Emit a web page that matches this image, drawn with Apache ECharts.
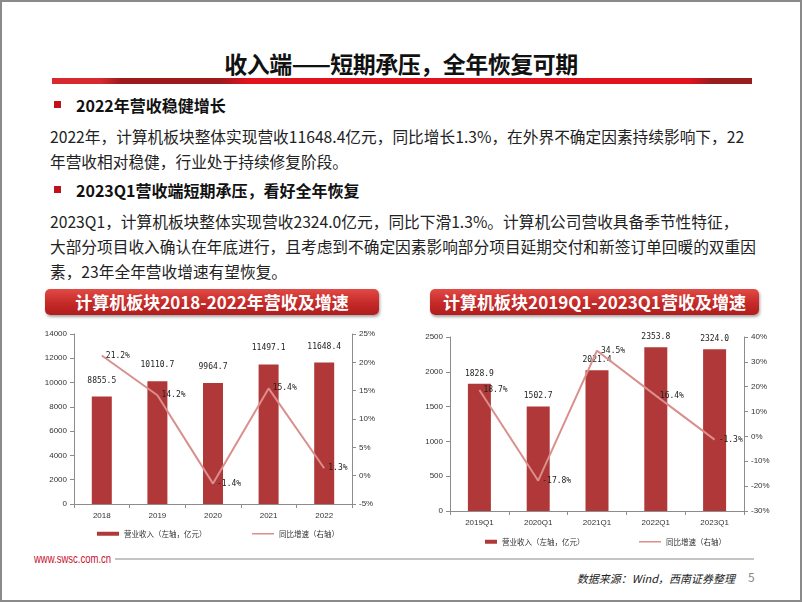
<!DOCTYPE html>
<html><head><meta charset="utf-8">
<script src="https://cdn.jsdelivr.net/npm/echarts@6/dist/echarts.min.js"></script>
<style>
html,body{margin:0;padding:0;background:#fff;}
#page{position:relative;width:802px;height:602px;box-sizing:border-box;border:2px solid #8a8a8a;overflow:hidden;font-family:"Noto Sans CJK SC","Noto Sans",sans-serif;}
.abs{position:absolute;white-space:nowrap;}
#title{left:0;width:798px;top:44px;text-align:center;font-size:23px;font-weight:bold;color:#111;line-height:34px;letter-spacing:-0.5px;}
#redbar{left:50px;top:76px;width:700px;height:6px;background:linear-gradient(100deg,#d62a30 0%,#d62a30 7%,#9c1a1c 10%,#9c1a1c 24%,#e2121e 28%,#e2121e 91%,#9a1d1d 94%,#9a1d1d 100%);}
.bullet{width:7px;height:7px;background:#c0121c;}
.head{font-size:16px;font-weight:bold;color:#111;line-height:22px;}
.body{font-size:15.7px;color:#222;line-height:25px;}
.banner{height:26px;border-radius:5px;background:linear-gradient(#e24a45,#c42a28 55%,#b01d1d);box-shadow:1px 2px 3px rgba(0,0,0,0.35);color:#fff;font-weight:bold;font-size:17px;line-height:26px;text-align:center;}
#url{left:32px;top:548px;font-family:"Liberation Sans",Arial,sans-serif;font-size:12.5px;color:#c8102e;line-height:18px;transform:scaleX(0.76);transform-origin:0 50%;}
#fline{left:113px;top:556px;width:639px;height:1.5px;background:#c4c4c4;}
#src{left:560px;top:567px;width:173px;text-align:right;font-size:11px;font-style:italic;color:#222;line-height:18px;}
#pnum{left:746px;top:566px;font-size:12px;color:#888;line-height:18px;}
</style></head>
<body>
<div id="page">
  <div id="title" class="abs">收入端——短期承压，全年恢复可期</div>
  <div id="redbar" class="abs"></div>
  <div class="abs bullet" style="left:52px;top:99px;"></div>
  <div class="abs head" style="left:74px;top:92px;">2022年营收稳健增长</div>
  <div class="abs body" style="left:48px;top:122px;">2022年，计算机板块整体实现营收11648.4亿元，同比增长1.3%，在外界不确定因素持续影响下，22<br>年营收相对稳健，行业处于持续修复阶段。</div>
  <div class="abs bullet" style="left:52px;top:184px;"></div>
  <div class="abs head" style="left:74px;top:177px;">2023Q1营收端短期承压，看好全年恢复</div>
  <div class="abs body" style="left:48px;top:207px;">2023Q1，计算机板块整体实现营收2324.0亿元，同比下滑1.3%。计算机公司营收具备季节性特征，<br>大部分项目收入确认在年底进行，且考虑到不确定因素影响部分项目延期交付和新签订单回暖的双重因<br>素，23年全年营收增速有望恢复。</div>
  <div class="abs banner" style="left:43px;top:287px;width:334px;">计算机板块2018-2022年营收及增速</div>
  <div class="abs banner" style="left:428px;top:287px;width:329px;">计算机板块2019Q1-2023Q1营收及增速</div>
  <div id="c1" class="abs" style="left:30px;top:320px;width:370px;height:225px;"></div>
  <div id="c2" class="abs" style="left:405px;top:320px;width:395px;height:225px;"></div>
  <div id="url" class="abs">www.swsc.com.cn</div>
  <div id="fline" class="abs"></div>
  <div id="src" class="abs">数据来源：Wind，西南证券整理</div>
  <div id="pnum" class="abs">5</div>
</div>
<script>
// ---- data ----
const annualCategories = ['2018', '2019', '2020', '2021', '2022'];
const annualRevenue = [8855.5, 10110.7, 9964.7, 11497.1, 11648.4];
const annualGrowth = [21.2, 14.2, -1.4, 15.4, 1.3];
const quarterCategories = ['2019Q1', '2020Q1', '2021Q1', '2022Q1', '2023Q1'];
const quarterRevenue = [1828.9, 1502.7, 2021.4, 2353.8, 2324.0];
const quarterGrowth = [18.7, -17.8, 34.5, 16.4, -1.3];
const barName = '营业收入（左轴，亿元）';
const lineName = '同比增速（右轴）';

const BAR = '#b03838';
const LINE = '#d98f8c';
const AX = '#8c8c8c';
const axisFont = {fontFamily: 'Liberation Sans, Arial, sans-serif', fontSize: 8, color: '#333'};
const labelFont = {fontFamily: 'DejaVu Sans Mono, monospace', fontSize: 8, color: '#222'};

function makeOption(cfg) {
  return {
    animation: false,
    grid: {left: cfg.gridLeft, top: cfg.gridTop, width: cfg.gridWidth, height: cfg.gridHeight},
    legend: [
      {data: [{name: barName, icon: 'rect'}], left: cfg.leg1x, top: cfg.legY, itemWidth: cfg.barIconW, itemHeight: 4,
       textStyle: {fontSize: 7.5, color: '#333', fontFamily: 'Noto Sans CJK SC'}, itemGap: 4, selectedMode: false},
      {data: [{name: lineName, icon: 'rect'}], left: cfg.leg2x, top: cfg.legY, itemWidth: 22, itemHeight: 1.5,
       textStyle: {fontSize: 7.5, color: '#333', fontFamily: 'Noto Sans CJK SC'}, itemGap: 4, selectedMode: false}
    ],
    xAxis: {
      type: 'category', data: cfg.categories,
      axisLine: {onZero: false, lineStyle: {color: AX, width: 1}},
      axisTick: {show: true, lineStyle: {color: AX}, length: 4},
      axisLabel: Object.assign({margin: 8}, axisFont)
    },
    yAxis: [
      {type: 'value', min: cfg.lMin, max: cfg.lMax, interval: cfg.lInt, splitLine: {show: false},
       axisLine: {show: true, lineStyle: {color: AX}}, axisTick: {show: true, length: 4, lineStyle: {color: AX}},
       axisLabel: Object.assign({margin: 7, formatter: v => String(v)}, axisFont)},
      {type: 'value', min: cfg.rMin, max: cfg.rMax, interval: cfg.rInt, splitLine: {show: false},
       axisLine: {show: true, lineStyle: {color: AX}}, axisTick: {show: true, length: 4, lineStyle: {color: AX}},
       axisLabel: Object.assign({margin: 7, formatter: v => v + '%'}, axisFont)}
    ],
    series: [
      {name: barName, type: 'bar', data: cfg.bars, barWidth: cfg.barWidth, itemStyle: {color: BAR},
       label: Object.assign({show: true, position: 'top', distance: cfg.barLabelDist,
         formatter: p => p.value.toFixed(1)}, labelFont)},
      {name: lineName, type: 'line', yAxisIndex: 1, data: cfg.line, symbol: 'circle', symbolSize: 0.1,
       itemStyle: {color: LINE}, lineStyle: {color: LINE, width: 2},
       label: Object.assign({show: true, position: 'right', distance: 4,
         formatter: p => p.value.toFixed(1) + '%'}, labelFont)}
    ]
  };
}

const c1 = echarts.init(document.getElementById('c1'), null, {renderer: 'canvas'});
c1.setOption(makeOption({
  gridLeft: 42, gridTop: 12, gridWidth: 278, gridHeight: 170,
  categories: annualCategories, bars: annualRevenue, line: annualGrowth,
  lMin: 0, lMax: 14000, lInt: 2000, rMin: -5, rMax: 25, rInt: 5,
  barWidth: 20, barLabelDist: 12,
  leg1x: 60, leg2x: 215, legY: 203, barIconW: 22
}));

const c2 = echarts.init(document.getElementById('c2'), null, {renderer: 'canvas'});
c2.setOption(makeOption({
  gridLeft: 43, gridTop: 15, gridWidth: 294, gridHeight: 174,
  categories: quarterCategories, bars: quarterRevenue, line: quarterGrowth,
  lMin: 0, lMax: 2500, lInt: 500, rMin: -30, rMax: 40, rInt: 10,
  barWidth: 23, barLabelDist: 6,
  leg1x: 73, leg2x: 227, legY: 211, barIconW: 12
}));
</script>
</body></html>
